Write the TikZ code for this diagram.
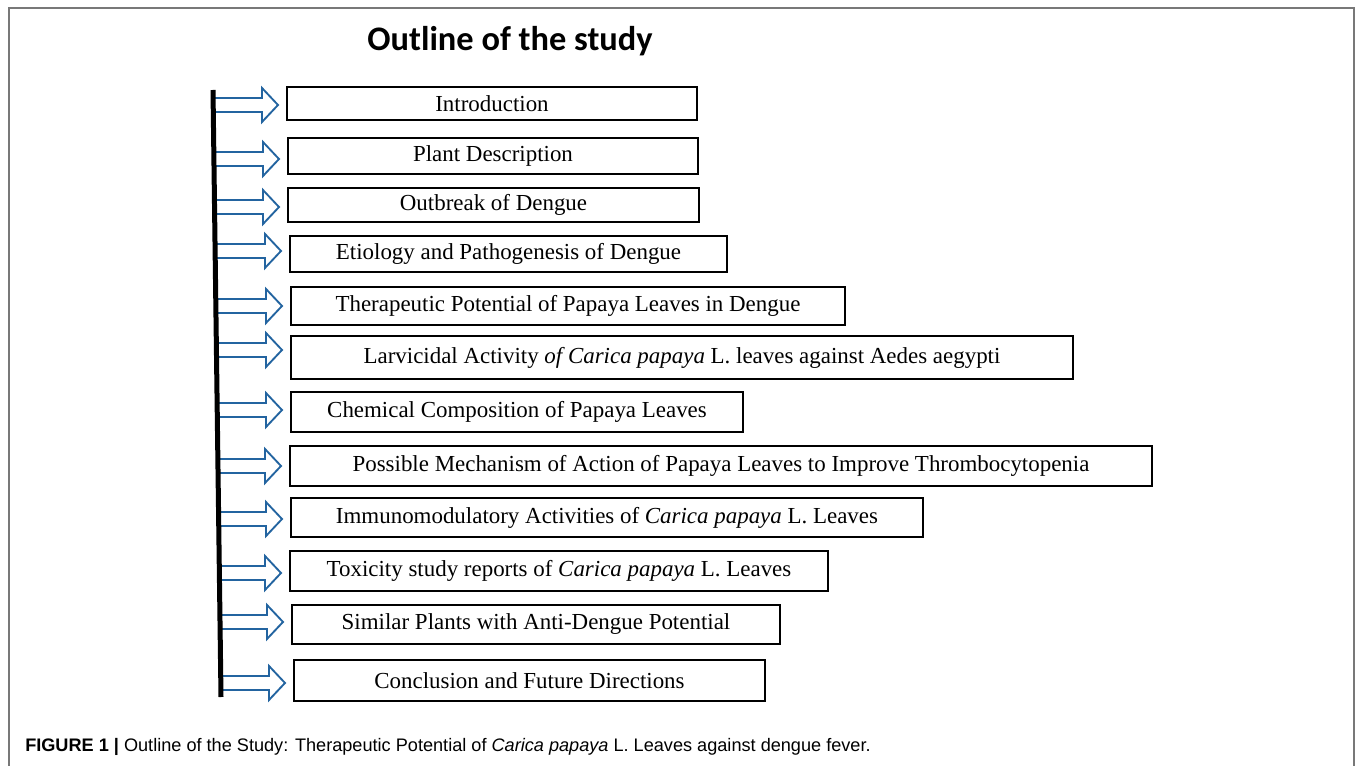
\documentclass[tikz,border=0pt]{standalone}
\usepackage{fontspec}
\setmainfont{Liberation Serif}
\newfontfamily\titlefont{Carlito}
\newfontfamily\capfont{Liberation Sans}
\usetikzlibrary{calc}
\definecolor{arrowblue}{RGB}{35,100,160}
\definecolor{framegray}{RGB}{120,120,120}
\tikzset{
  outbox/.style={draw=black, line width=1.5pt, inner sep=0pt, align=center,
    font=\fontsize{17.2}{19}\selectfont},
  blockarrow/.style={draw=arrowblue, line width=1.4pt, line join=miter,
    to path={let \p1=(\tikztostart), \p2=(\tikztotarget) in
      (\x1,\y1+5.25pt) -- (\x2-18pt,\y1+5.25pt) -- (\x2-18pt,\y1+12.75pt)
      -- (\x2-6pt,\y1) -- (\x2-18pt,\y1-12.75pt) -- (\x2-18pt,\y1-5.25pt)
      -- (\x1,\y1-5.25pt) -- cycle}},
  spine/.style={draw=black, line width=3.75pt}
}
\begin{document}
\begin{tikzpicture}[x=0.75pt,y=-0.75pt]
\useasboundingbox (0,0) rectangle (1355,766);
\fill[white] (0,0) rectangle (1355,766);
\draw[framegray, line width=1.5pt] (9,766) -- (9,8) -- (1354,8) -- (1354,766);

\node[font=\titlefont\bfseries\fontsize{25.8}{30}\selectfont] (title) at (510,41) {Outline of the study};

\node[outbox, minimum width=307.5pt, minimum height=24.75pt] (b1) at (492,103.5) {Introduction};
\node[outbox, minimum width=307.5pt, minimum height=27pt] (b2) at (493,156) {Plant Description};
\node[outbox, minimum width=308.25pt, minimum height=25.5pt] (b3) at (493.5,205) {Outbreak of Dengue};
\node[outbox, minimum width=327.75pt, minimum height=27pt] (b4) at (508.5,254) {Etiology and Pathogenesis of Dengue};
\node[outbox, minimum width=415.5pt, minimum height=28.5pt] (b5) at (568,306) {Therapeutic Potential of Papaya Leaves in Dengue};
\node[outbox, minimum width=586.5pt, minimum height=32.25pt] (b6) at (682,357.5) {Larvicidal Activity \textit{of Carica papaya} L. leaves against Aedes aegypti};
\node[outbox, minimum width=339pt, minimum height=30pt] (b7) at (517,412) {Chemical Composition of Papaya Leaves};
\node[outbox, minimum width=646.5pt, minimum height=30pt] (b8) at (721,466) {Possible Mechanism of Action of Papaya Leaves to Improve Thrombocytopenia};
\node[outbox, minimum width=474pt, minimum height=29.25pt] (b9) at (607,517.5) {Immunomodulatory Activities of \textit{Carica papaya} L. Leaves};
\node[outbox, minimum width=403.5pt, minimum height=30pt] (b10) at (559,571) {Toxicity study reports of \textit{Carica papaya} L. Leaves};
\node[outbox, minimum width=366pt, minimum height=29.25pt] (b11) at (536,624.5) {Similar Plants with Anti-Dengue Potential};
\node[outbox, minimum width=353.25pt, minimum height=30.75pt] (b12) at (529.5,680.5) {Conclusion and Future Directions};

\coordinate (bartop) at (213,90);
\coordinate (barbot) at (221,697);
\coordinate (s1) at ($(bartop)!0.0247!(barbot)$);
\coordinate (s2) at ($(bartop)!0.1137!(barbot)$);
\coordinate (s3) at ($(bartop)!0.1928!(barbot)$);
\coordinate (s4) at ($(bartop)!0.2652!(barbot)$);
\coordinate (s5) at ($(bartop)!0.3558!(barbot)$);
\coordinate (s6) at ($(bartop)!0.4283!(barbot)$);
\coordinate (s7) at ($(bartop)!0.5272!(barbot)$);
\coordinate (s8) at ($(bartop)!0.6194!(barbot)$);
\coordinate (s9) at ($(bartop)!0.7068!(barbot)$);
\coordinate (s10) at ($(bartop)!0.7957!(barbot)$);
\coordinate (s11) at ($(bartop)!0.8764!(barbot)$);
\coordinate (s12) at ($(bartop)!0.9769!(barbot)$);

\foreach \i in {1,...,12} {
  \draw[blockarrow] (s\i) to (b\i.west);
}
\draw[spine] (bartop) -- (barbot);

\node[anchor=west, inner sep=0pt, font=\capfont\fontsize{13.6}{16}\selectfont] (cap) at (25,747)
  {\textbf{FIGURE 1 |} Outline of the Study: Therapeutic Potential of \textit{Carica papaya} L. Leaves against dengue fever.};
\end{tikzpicture}
\end{document}
